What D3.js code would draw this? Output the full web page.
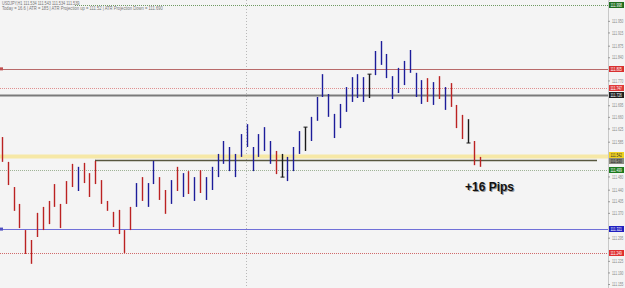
<!DOCTYPE html>
<html lang="en">
<head>
<meta charset="UTF-8">
<title>H1 bars</title>
<style>
  * { margin: 0; padding: 0; box-sizing: border-box; }
  body { background: #f4f4f4; font-family: Arial, "Liberation Sans", sans-serif; }
  #chart { width: 625px; height: 288px; }
</style>
</head>
<body>
<div id="chart"></div>
<script src="https://d3js.org/d3.v7.min.js"></script>
<script>
// bar data (H1 bars)
var highs = [111.599, 111.524, 111.448, 111.397, 111.318, 111.288, 111.370, 111.388, 111.406, 111.457,
  111.397, 111.466, 111.518, 111.509, 111.521, 111.490, 111.527, 111.469, 111.406, 111.373,
  111.379, 111.318, 111.388, 111.460, 111.478, 111.460, 111.527, 111.478, 111.439, 111.469,
  111.509, 111.490, 111.496, 111.478, 111.499, 111.478, 111.509, 111.548, 111.587, 111.569,
  111.548, 111.608, 111.638, 111.569, 111.608, 111.629, 111.587, 111.557, 111.548, 111.539,
  111.569, 111.617, 111.629, 111.660, 111.720, 111.789, 111.729, 111.669, 111.699, 111.750,
  111.780, 111.789, 111.780, 111.789, 111.859, 111.889, 111.850, 111.783, 111.808, 111.829,
  111.862, 111.793, 111.771, 111.777, 111.765, 111.783, 111.750, 111.762, 111.696, 111.666,
  111.653, 111.587, 111.539];
var lows = [111.524, 111.454, 111.376, 111.324, 111.246, 111.216, 111.297, 111.318, 111.336, 111.388,
  111.324, 111.397, 111.448, 111.436, 111.460, 111.418, 111.457, 111.397, 111.376, 111.327,
  111.306, 111.249, 111.318, 111.388, 111.406, 111.388, 111.457, 111.409, 111.367, 111.397,
  111.436, 111.418, 111.427, 111.406, 111.430, 111.409, 111.439, 111.478, 111.518, 111.496,
  111.478, 111.539, 111.569, 111.496, 111.539, 111.557, 111.518, 111.487, 111.478, 111.466,
  111.496, 111.548, 111.557, 111.587, 111.648, 111.720, 111.660, 111.596, 111.626, 111.675,
  111.705, 111.717, 111.705, 111.717, 111.786, 111.817, 111.777, 111.714, 111.732, 111.756,
  111.793, 111.720, 111.699, 111.705, 111.696, 111.714, 111.681, 111.690, 111.626, 111.593,
  111.581, 111.514, 111.509];
// d = down (red), u = up (blue), n = neutral (black), ten bars per group
var kinds = ("dddddddddd" + "dddudddddd" + "ddduduuddu" + "dududuuuuu" +
  "uuuuuuudnu" + "uunuuuuuuu" + "uuunuuuuuu" + "uuudududdd" + "ndd").split("");

// horizontal levels drawn on the chart
var levelPrices = [111.998, 111.805, 111.747, 111.726, 111.542, 111.530, 111.499, 111.321, 111.249];
var levelNames = ["greenTop", "redSolid", "redDot", "gray", "yellow", "olive", "greenDot", "blue", "redLow"];

// price axis labels
var tickLabels = [111.155, 111.190, 111.225, 111.260, 111.295, 111.335, 111.370, 111.405, 111.440,
  111.480, 111.515, 111.550, 111.585, 111.625, 111.660, 111.695, 111.730, 111.770, 111.805,
  111.840, 111.875, 111.915, 111.950, 111.985];

var width = 625, height = 288;
var axisX = 608;
var squeeze = 0.66; // the terminal's price font is very narrow

var svg = d3.select("#chart").append("svg")
  .attr("width", width)
  .attr("height", height);

svg.append("rect")
  .attr("width", width).attr("height", height)
  .attr("fill", "#f4f4f4");

var x = d3.scaleLinear().domain([0, highs.length - 1]).range([2, 479.7]);
var y = d3.scaleLinear().domain([111.143, 112.013]).range([height, 0]);

// vertical day separator
svg.append("line")
  .attr("x1", 246.5).attr("x2", 246.5)
  .attr("y1", 0).attr("y2", height)
  .attr("stroke", "#b8b8b8")
  .attr("stroke-dasharray", "1,2");

// level lines
var style = {
  greenTop: { c: "#6f9a62", w: 1, dash: "1,1", x0: 75, x1: axisX },
  redSolid: { c: "#b86a6a", w: 1, dash: null, x0: 0, x1: axisX },
  redDot:   { c: "#e09090", w: 1, dash: "1,1", x0: 0, x1: axisX },
  gray:     { c: "#7a7a7a", w: 2, dash: null, x0: 0, x1: axisX },
  yellow:   { c: "#f6e8a6", w: 4, dash: null, x0: 0, x1: axisX },
  olive:    { c: "#58573f", w: 1.6, dash: null, x0: 95, x1: 597 },
  greenDot: { c: "#9fb396", w: 1, dash: "1,1", x0: 0, x1: axisX },
  blue:     { c: "#7070d8", w: 1, dash: null, x0: 0, x1: axisX },
  redLow:   { c: "#d06a6a", w: 1, dash: "1,1", x0: 0, x1: axisX }
};

levelPrices.forEach(function(p, i) {
  var s = style[levelNames[i]];
  var yy = Math.round(y(p)) + 0.5;
  svg.append("line")
    .attr("x1", s.x0).attr("x2", s.x1)
    .attr("y1", yy).attr("y2", yy)
    .attr("stroke", s.c)
    .attr("stroke-width", s.w)
    .attr("stroke-dasharray", s.dash);
});

// little start tick of the olive line
svg.append("line")
  .attr("x1", 95.5).attr("x2", 95.5)
  .attr("y1", y(111.530)).attr("y2", y(111.524))
  .attr("stroke", "#58573f");

// markers on the left edge
svg.append("rect").attr("x", 0).attr("y", y(111.805) - 1.5).attr("width", 3).attr("height", 3).attr("fill", "#c05050");
svg.append("rect").attr("x", 0).attr("y", y(111.321) - 1.5).attr("width", 3).attr("height", 3).attr("fill", "#5050c0");

// bars
var barColor = { d: "#bb2222", u: "#1c1c9a", n: "#1a1a1a" };
svg.selectAll("line.bar")
  .data(highs)
  .enter()
  .append("line")
    .attr("class", "bar")
    .attr("x1", function(d, i) { return Math.round(x(i)) + 0.5; })
    .attr("x2", function(d, i) { return Math.round(x(i)) + 0.5; })
    .attr("y1", function(d) { return y(d); })
    .attr("y2", function(d, i) { return y(lows[i]); })
    .attr("stroke", function(d, i) { return barColor[kinds[i]]; })
    .attr("stroke-width", 1.4);

// ticks on neutral bars
highs.forEach(function(h, i) {
  if (kinds[i] !== "n") return;
  var xx = Math.round(x(i)) + 0.5;
  var yy = (i === 52 || i === 63) ? y(h) : y(lows[i]);
  svg.append("line")
    .attr("x1", xx - 2).attr("x2", xx + 2)
    .attr("y1", yy).attr("y2", yy)
    .attr("stroke", "#1a1a1a");
});

// price axis, labels under a level box are hidden like in the terminal
var shown = tickLabels.filter(function(t) {
  return !levelPrices.some(function(p) { return Math.abs(y(p) - y(t)) < 6; });
});
var axis = d3.axisRight(y)
  .tickValues(shown)
  .tickFormat(d3.format(".3f"))
  .tickSize(2);

var gAxis = svg.append("g")
  .attr("transform", "translate(" + axisX + ",0)")
  .call(axis);
gAxis.select(".domain").attr("stroke", "#c8c8c8");
gAxis.selectAll(".tick line").attr("stroke", "#999");
gAxis.selectAll("text")
  .attr("x", 4 / squeeze)
  .attr("transform", "scale(" + squeeze + ",1)")
  .style("font-size", "5px")
  .style("font-family", "Arial, sans-serif")
  .attr("fill", "#8a8a8a");

// price boxes for the levels
var boxColor = { greenTop: "#1f6e1f", redSolid: "#d83030", redDot: "#e03a3a", gray: "#202020",
  yellow: "#f0d020", olive: "#8a8a80", greenDot: "#1e7a1e", blue: "#2020c0", redLow: "#e03030" };
var boxText = { yellow: "#333", olive: "#222" };
levelPrices.forEach(function(p, i) {
  var n = levelNames[i];
  var yy = Math.round(y(p));
  if (n === "yellow") yy -= 1;
  if (n === "olive") yy += 1;
  svg.append("rect")
    .attr("x", axisX + 1).attr("y", yy - 3)
    .attr("width", 15).attr("height", 6)
    .attr("fill", boxColor[n]);
  svg.append("text")
    .attr("transform", "translate(" + (axisX + 2.5) + "," + (yy + 2) + ") scale(" + squeeze + ",1)")
    .style("font-size", "5px")
    .attr("fill", boxText[n] || "#fff")
    .text(d3.format(".3f")(p));
});

// info text top left
svg.append("text")
  .attr("transform", "translate(2,5) scale(0.85,1)")
  .style("font-size", "4.5px").attr("fill", "#777")
  .text("USDJPY,H1  111.534 111.543 111.534 111.539");
svg.append("text")
  .attr("transform", "translate(2,10) scale(0.92,1)")
  .style("font-size", "4.5px").attr("fill", "#777")
  .text("Today = 16.6   |   ATR = 185   |   ATR Projection up = 111.52   |   ATR Projection Down = 111.690");

// pips annotation
svg.append("text")
  .attr("x", 466).attr("y", 192)
  .style("font-size", "12px").style("font-weight", "bold")
  .attr("fill", "#999")
  .text("+16 Pips");
svg.append("text")
  .attr("x", 465).attr("y", 191)
  .style("font-size", "12px").style("font-weight", "bold")
  .attr("fill", "#111")
  .text("+16 Pips");
</script>
</body>
</html>
